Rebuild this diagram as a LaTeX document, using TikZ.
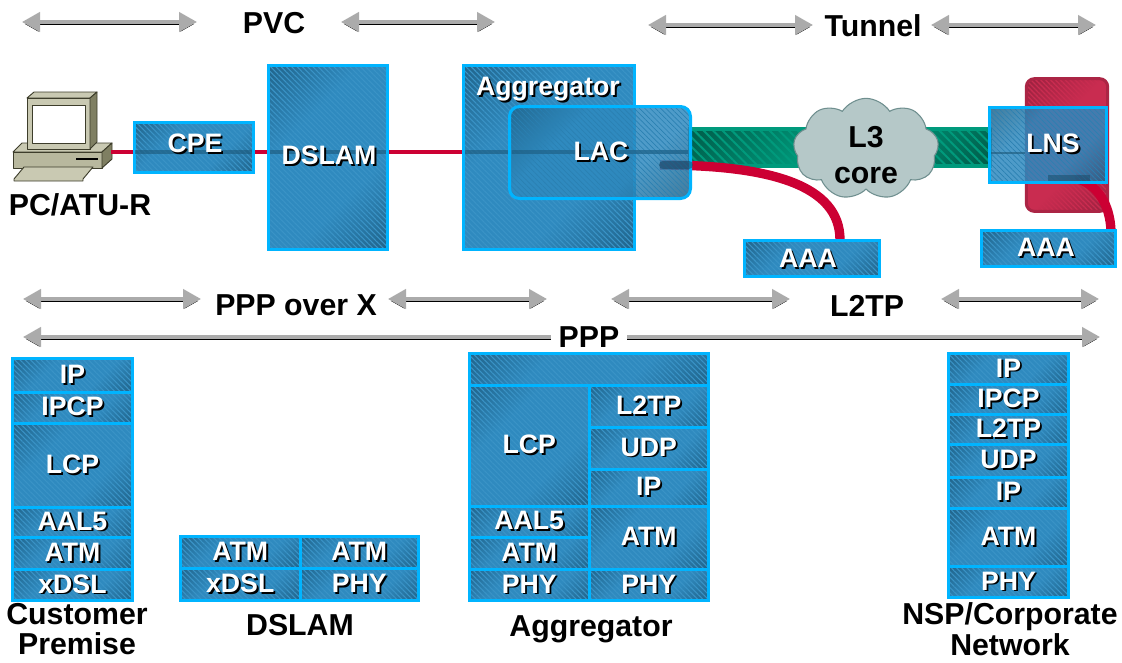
\documentclass[tikz,border=0pt]{standalone}
\usepackage{fontspec}
\setmainfont{Liberation Sans}
\usepackage{tikz}
\usetikzlibrary{arrows.meta,patterns.meta,shapes.symbols}

\definecolor{boxedge}{HTML}{00B4FF}
\definecolor{boxmid}{HTML}{2F8ABF}
\definecolor{boxstripe}{HTML}{3A93C6}
\definecolor{boxdark}{HTML}{174A66}
\definecolor{glassstripe}{HTML}{2A80B2}
\definecolor{tubemid}{HTML}{009A7C}
\definecolor{tubedark}{HTML}{003F32}
\definecolor{reddark}{HTML}{7E1B35}
\definecolor{redmid}{HTML}{C92C50}
\definecolor{linkred}{HTML}{CC0033}
\definecolor{arrowgray}{HTML}{ABABAB}
\definecolor{pcfront}{HTML}{B8B89E}
\definecolor{pctop}{HTML}{C9C9B2}
\definecolor{pcside}{HTML}{7F7F62}
\definecolor{pcline}{HTML}{3D3D2B}
\definecolor{cloudfill}{HTML}{B5C8C8}
\definecolor{cloudedge}{HTML}{6F8F8F}

\pgfdeclareverticalshading{bluediag}{100bp}{color(0bp)=(boxdark); color(36bp)=(boxmid); color(64bp)=(boxmid); color(100bp)=(boxdark)}
\pgfdeclareverticalshading{tubediag}{100bp}{color(0bp)=(tubedark); color(46bp)=(tubemid); color(54bp)=(tubemid); color(100bp)=(tubedark)}
\pgfdeclareverticalshading{reddiag}{100bp}{color(0bp)=(reddark); color(40bp)=(redmid); color(60bp)=(redmid); color(100bp)=(reddark)}

\newcommand{\shtext}[1]{\rlap{\kern1.4pt\raisebox{-1.4pt}{\textcolor{black}{#1}}}#1}

\tikzset{
  layer/.style={draw=boxedge,line width=2.25pt,
    preaction={shade,shading=bluediag,shading angle=45},
    preaction={pattern={Lines[angle=-45,distance=2.8pt,line width=.8pt]},pattern color=boxstripe}},
  glassbox/.style={draw=boxedge,line width=2.25pt,
    preaction={shade,shading=bluediag,shading angle=45,fill opacity=.85},
    preaction={pattern={Lines[angle=-45,distance=2.8pt,line width=.5pt]},pattern color=glassstripe}},
  layertext/.style={text=white,inner sep=0pt,font=\fontsize{20}{24}\selectfont\bfseries},
  toptext/.style={text=white,inner sep=0pt,font=\fontsize{20}{24}\selectfont\bfseries},
  title/.style={text=black,inner sep=0pt,align=center,font=\fontsize{22.7}{24}\selectfont\bfseries},
  twolines/.style={title,font=\fontsize{22.7}{23}\selectfont\bfseries},
  span/.style={{Triangle[length=13.5pt,width=14.5pt]}-{Triangle[length=13.5pt,width=14.5pt]},
    draw=arrowgray,line width=2.6pt,
    preaction={draw=black,transform canvas={yshift=-1.5pt}}},
  redlink/.style={draw=linkred,line width=3.6pt,
    preaction={draw=black,transform canvas={yshift=-1pt}}},
  redcurve/.style={draw=linkred,line width=7pt,
    preaction={draw=black,transform canvas={xshift=.8pt,yshift=-.8pt}}},
  band/.style={draw=boxdark!80!boxmid,line width=3pt,opacity=.6},
  pcpart/.style={draw=pcline,line width=.7pt,line join=round}
}

\begin{document}
\begin{tikzpicture}[x=0.75pt,y=-0.75pt]
\useasboundingbox (0,0) rectangle (1122,662);

% end points of the spans
\coordinate (pvcA) at (22,22);
\coordinate (pvcB) at (197,22);
\coordinate (pvcC) at (341,22);
\coordinate (pvcD) at (495,22);
\coordinate (tunA) at (648,25);
\coordinate (tunB) at (813,25);
\coordinate (tunC) at (931,25);
\coordinate (tunD) at (1096,25);
\coordinate (poxA) at (23,299);
\coordinate (poxB) at (201,299);
\coordinate (poxC) at (388,299);
\coordinate (poxD) at (547,299);
\coordinate (ltpA) at (611,299);
\coordinate (ltpB) at (790,299);
\coordinate (ltpC) at (941,299);
\coordinate (ltpD) at (1099,299);
\coordinate (pppA) at (23,337);
\coordinate (pppB) at (1100,337);
\coordinate (pclink) at (111,152);

\foreach \a\b in {pvcA/pvcB,pvcC/pvcD,tunA/tunB,tunC/tunD,poxA/poxB,poxC/poxD,ltpA/ltpB,ltpC/ltpD,pppA/pppB}
\draw[span] (\a) -- (\b);

\node[title,fill=white,inner xsep=6pt,inner ysep=2pt] (ppp) at (589,337) {PPP};
\node[title] (pvc) at (274,23) {PVC};
\node[title] (tunnel) at (873,26) {Tunnel};
\node[title] (pppx) at (296,305) {PPP over X};
\node[title] (ltp) at (867,306) {L2TP};

% pc
\fill[pctop,pcpart] (13,152) -- (22,143) -- (112,143) -- (102,152) -- cycle;
\fill[pcfront,pcpart] (13,152) rectangle (102,168);
\fill[pcside,pcpart] (102,152) -- (112,143) -- (112,159) -- (102,168) -- cycle;
\draw[black,thick] (76,159) -- (98,159);
\fill[pctop,pcpart] (27,98) -- (34,92) -- (97,92) -- (90,98) -- cycle;
\fill[pctop,pcpart] (27,98) rectangle (90,149);
\fill[pcside,pcpart] (90,98) -- (97,92) -- (97,142) -- (90,149) -- cycle;
\fill[white,pcpart] (32,105) rectangle (85,143);
\fill[pctop,pcpart] (14,179) -- (24,167) -- (93,167) -- (83,179) -- (83,181) -- (14,181) -- cycle;
\node[title] (pcname) at (80,205) {PC/ATU-R};

% tunnel and links, under the boxes
\draw[draw=tubemid,line width=3pt,preaction={shade,shading=tubediag,shading angle=45},
  preaction={pattern={Lines[angle=-45,distance=5pt,line width=1.5pt]},pattern color=tubemid}]
  (690,128.5) rectangle (990,165.5);
\node[draw=reddark!40!redmid,rounded corners=6pt,line width=2.25pt,minimum width=61pt,minimum height=99.5pt,
  preaction={shade,shading=reddiag,shading angle=45},
  preaction={pattern={Lines[angle=-45,distance=2.6pt,line width=1pt]},pattern color=redmid}] (lnsback) at (1067,145) {};

\coordinate (aaaOnePort) at (840,240);
\coordinate (aaaTwoPort) at (1111,231);
\draw[redlink] (pclink) -- (580,152);
\draw[redcurve] (660,165) .. controls (770,165) and (840,185) .. (aaaOnePort);
\draw[redcurve] (1075,178) .. controls (1098,184) and (1110,205) .. (aaaTwoPort);

\node[cloud,cloud puffs=9,cloud puff arc=115,aspect=1.45,fill=cloudfill,draw=cloudedge,line width=.8pt,
  minimum width=109pt,minimum height=76pt,inner sep=0pt] (core) at (866,149) {};
\node[title,font=\fontsize{22.7}{27}\selectfont\bfseries] (coretext) at (866,155) {L3\\core};

% boxes of the top row
\draw[layer] (134.5,122.5) rectangle (253.5,172.5);
\draw[layer] (268.5,65.5) rectangle (387.5,249.5);
\draw[layer] (463.5,65.5) rectangle (634.5,249.5);
\draw[band] (135,152) -- (252,152);
\draw[band] (270,152) -- (386,152);
\draw[band] (465,152) -- (690,152);
\node[toptext] (cpe) at (195,144) {\shtext{CPE}};
\node[toptext] (dslam) at (329,156) {\shtext{DSLAM}};
\node[toptext] (aggtext) at (548,90) {\shtext{Aggregator}};
\draw[glassbox,rounded corners=7.5pt] (509.5,106.5) rectangle (690.5,198.5);
\draw[draw=boxdark,line width=6pt,line cap=round,opacity=.55] (663,165) -- (689,165);
\draw[draw=boxdark!80!boxmid,line width=3pt,opacity=.5] (512,152) -- (688,152);
\node[toptext] (lac) at (601,152) {\shtext{LAC}};
\draw[glassbox] (989.5,107.5) rectangle (1106.5,182.5);
\draw[band,line width=2pt] (991,153) -- (1025,153);
\draw[draw=boxdark,line width=4pt,opacity=.5] (1048,178) -- (1090,178);
\node[toptext] (lns) at (1053,144) {\shtext{LNS}};
\draw[layer] (744.5,240.5) rectangle (879.5,276.5);
\node[toptext] (aaaone) at (808,259) {\shtext{AAA}};
\draw[layer] (981.5,230.5) rectangle (1115.5,266.5);
\node[toptext] (aaatwo) at (1046,248) {\shtext{AAA}};

% protocol stacks
\foreach \nm/\xa/\ya/\xb/\yb/\txt in {
  cuIp/12.5/358.5/132.5/392/IP,cuIpcp/12.5/392/132.5/423/IPCP,cuLcp/12.5/423/132.5/507/LCP,
  cuAal/12.5/507/132.5/537/AAL5,cuAtm/12.5/537/132.5/569/ATM,cuDsl/12.5/569/132.5/600.5/xDSL,
  dsAtm/180.5/536.5/300/568/ATM,dsAtmb/300/536.5/418.5/568/ATM,dsDsl/180.5/568/300/600.5/xDSL,dsPhy/300/568/418.5/600.5/PHY,
  agLcp/469.5/385/589/506/LCP,agAal/469.5/506/589/537/AAL5,agAtm/469.5/537/589/569/ATM,agPhy/469.5/569/589/600.5/PHY,
  agTp/589/385/708.5/427/L2TP,agUdp/589/427/708.5/469/UDP,agIp/589/469/708.5/506/IP,agAtmb/589/506/708.5/569/ATM,agPhyb/589/569/708.5/600.5/PHY,
  nsIp/948.5/353.5/1068.5/384/IP,nsIpcp/948.5/384/1068.5/414/IPCP,nsTp/948.5/414/1068.5/444/L2TP,nsUdp/948.5/444/1068.5/477/UDP,
  nsIpb/948.5/477/1068.5/508/IP,nsAtm/948.5/508/1068.5/566/ATM,nsPhy/948.5/566/1068.5/597.5/PHY}
\draw[layer] (\xa,\ya) rectangle (\xb,\yb) node[midway,layertext] (\nm) {\shtext{\txt}};

\draw[layer] (469.5,353.5) rectangle (708.5,385);

% names of the stacks
\node[twolines] (cuname) at (77,629) {Customer\\Premise};
\node[title] (dsname) at (300,625) {DSLAM};
\node[title] (agname) at (591,629) {Aggregator};
\node[twolines] (nsname) at (1010,629) {NSP/Corporate\\Network};

\end{tikzpicture}
\end{document}
